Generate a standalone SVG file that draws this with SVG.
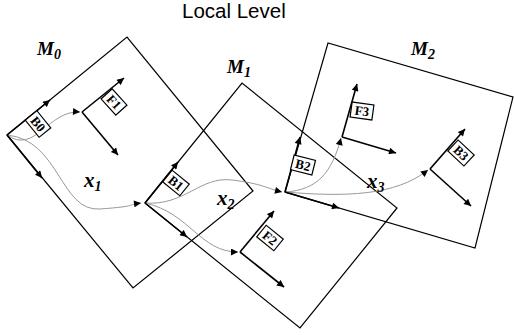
<svg xmlns="http://www.w3.org/2000/svg" width="514" height="335" viewBox="0 0 514 335">
<style>
.frame{fill:none;stroke:#000;stroke-width:1.2}
.axis{fill:none;stroke:#000;stroke-width:1.6;marker-end:url(#ah)}
.curve{fill:none;stroke:#999;stroke-width:1;marker-end:url(#ah)}
.box{fill:#fff;stroke:#000;stroke-width:1.2}
.bl{font-family:"Liberation Serif",serif;font-weight:bold;font-size:13px;text-anchor:middle;dominant-baseline:central}
.ml{font-family:"Liberation Serif",serif;font-weight:bold;font-style:italic;font-size:19px}
.xl{font-family:"Liberation Serif",serif;font-weight:bold;font-style:italic;font-size:21px}
.sub{font-size:14px}
</style>
<defs>
<marker id="ah" viewBox="0 0 10 10" refX="10" refY="5" markerWidth="9" markerHeight="7" markerUnits="userSpaceOnUse" orient="auto"><path d="M0,0 L10,5 L0,10 z" fill="#000"/></marker>
</defs>
<rect width="514" height="335" fill="#fff"/>
<text x="182" y="18" font-family="'Liberation Sans',Arial,sans-serif" font-size="20.5">Local Level</text>

<g id="M0">
<polygon class="frame" points="7,135 127,37 253,191 133,288"/>
<text class="ml" x="37" y="55">M<tspan class="sub" dy="4">0</tspan></text>
</g>
<g id="M1">
<polygon class="frame" points="145,203 242,83 397,208 300,328"/>
<text class="ml" x="227" y="73">M<tspan class="sub" dy="4">1</tspan></text>
</g>
<g id="M2">
<polygon class="frame" points="285,192 328,43 513,97 475,248"/>
<text class="ml" x="411" y="55">M<tspan class="sub" dy="4">2</tspan></text>
</g>

<g id="connectors">
<path class="curve" d="M7,135 C35,155 48,110 80,112"/>
<path class="curve" d="M7,135 C60,140 60,212 100,209 S125,205 141,203"/>
<path class="curve" d="M145,203 C185,206 200,176 232,180 S265,188 282,192"/>
<path class="curve" d="M145,203 C190,213 200,252 238,252"/>
<path class="curve" d="M285,192 C318,190 332,172 341,138"/>
<path class="curve" d="M285,192 C345,197 395,196 428,170"/>
<text class="xl" x="84" y="187">x<tspan class="sub" dy="4">1</tspan></text>
<text class="xl" x="217" y="205">x<tspan class="sub" dy="4">2</tspan></text>
<text class="xl" x="367" y="188">x<tspan class="sub" dy="4">3</tspan></text>
</g>

<g id="B0">
<line class="axis" x1="7" y1="135" x2="50" y2="100"/>
<line class="axis" x1="7" y1="135" x2="42" y2="178"/>
<g transform="translate(38,124) rotate(51)"><rect class="box" x="-11" y="-7.5" width="22" height="15"/><text class="bl" x="0" y="0">B0</text></g>
</g>
<g id="F1">
<line class="axis" x1="82" y1="112" x2="124" y2="78"/>
<line class="axis" x1="82" y1="112" x2="118" y2="155"/>
<g transform="translate(114,102) rotate(48)"><rect class="box" x="-11" y="-7.5" width="22" height="15"/><text class="bl" x="0" y="0">F1</text></g>
</g>
<g id="B1">
<line class="axis" x1="145" y1="203" x2="178" y2="162"/>
<line class="axis" x1="145" y1="203" x2="187" y2="237"/>
<g transform="translate(176,183) rotate(39)"><rect class="box" x="-11" y="-7.5" width="22" height="15"/><text class="bl" x="0" y="0">B1</text></g>
</g>
<g id="F2">
<line class="axis" x1="240" y1="252" x2="274" y2="211"/>
<line class="axis" x1="240" y1="252" x2="284" y2="287"/>
<g transform="translate(270,238) rotate(39)"><rect class="box" x="-11" y="-7.5" width="22" height="15"/><text class="bl" x="0" y="0">F2</text></g>
</g>
<g id="B2">
<line class="axis" x1="285" y1="192" x2="300" y2="137"/>
<line class="axis" x1="285" y1="192" x2="339" y2="208"/>
<g transform="translate(303,165) rotate(14)"><rect class="box" x="-11" y="-7.5" width="22" height="15"/><text class="bl" x="0" y="0">B2</text></g>
</g>
<g id="F3">
<line class="axis" x1="342" y1="137" x2="357" y2="84"/>
<line class="axis" x1="342" y1="137" x2="396" y2="153"/>
<g transform="translate(362,111) rotate(8)"><rect class="box" x="-11" y="-7.5" width="22" height="15"/><text class="bl" x="0" y="0">F3</text></g>
</g>
<g id="B3">
<line class="axis" x1="430" y1="169" x2="465" y2="129"/>
<line class="axis" x1="430" y1="169" x2="471" y2="206"/>
<g transform="translate(461,153) rotate(43)"><rect class="box" x="-11" y="-7.5" width="22" height="15"/><text class="bl" x="0" y="0">B3</text></g>
</g>
</svg>
